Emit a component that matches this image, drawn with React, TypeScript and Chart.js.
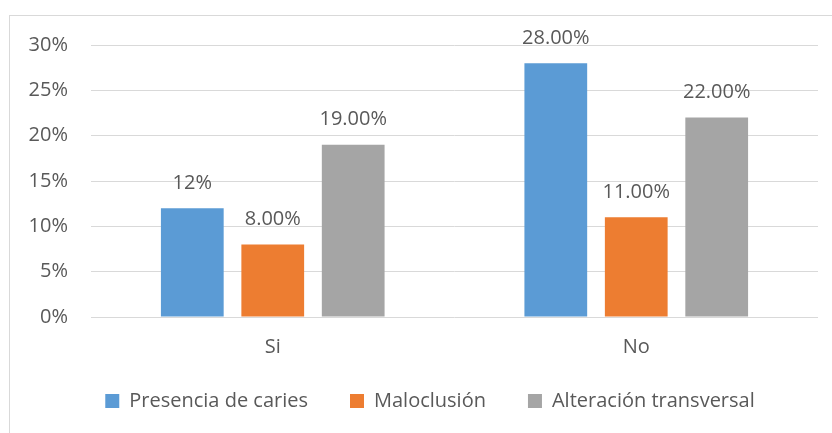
import React, { useEffect, useRef } from 'react';
import { Chart, registerables } from 'chart.js';

Chart.register(...registerables);

const categories = ['Si', 'No'];
const seriesNames = ['Presencia de caries', 'Maloclusión', 'Alteración transversal'];
const caries = [12, 28];
const maloclusion = [8, 11];
const alteracion = [19, 22];
const cariesLabels = ['12%', '28.00%'];
const maloclusionLabels = ['8.00%', '11.00%'];
const alteracionLabels = ['19.00%', '22.00%'];
const yMax = 30;
const yStep = 5;

const FONT = "'Open Sans', sans-serif";
const TEXT = '#595959';
const LEGEND_PAD = 42;

export default function App() {
  const ref = useRef<HTMLCanvasElement | null>(null);

  useEffect(() => {
    if (!ref.current) return;
    const labelSets = [cariesLabels, maloclusionLabels, alteracionLabels];

    const borderPlugin = {
      id: 'outerBorder',
      beforeDraw(chart: any) {
        const ctx = chart.ctx;
        ctx.save();
        ctx.fillStyle = '#ffffff';
        ctx.fillRect(0, 0, chart.width, chart.height);
        ctx.strokeStyle = '#D9D9D9';
        ctx.lineWidth = 1;
        ctx.strokeRect(9.5, 15.5, 1000, 1000);
        ctx.restore();
      },
    };

    const legendShift = {
      id: 'legendShift',
      afterLayout(chart: any) {
        const lg = chart.legend;
        if (lg) {
          lg.left += 21;
          lg.right += 21;
          const h = lg.bottom - lg.top;
          lg.top = 401 - 10 - LEGEND_PAD;
          lg.bottom = lg.top + h;
        }
      },
    };

    const valueLabels = {
      id: 'valueLabels',
      afterDatasetsDraw(chart: any) {
        const ctx = chart.ctx;
        ctx.save();
        ctx.font = `20px ${FONT}`;
        ctx.fillStyle = TEXT;
        ctx.textAlign = 'center';
        ctx.textBaseline = 'middle';
        chart.data.datasets.forEach((ds: any, di: number) => {
          const meta = chart.getDatasetMeta(di);
          meta.data.forEach((bar: any, i: number) => {
            ctx.fillText(labelSets[di][i], bar.x, bar.y - 25);
          });
        });
        ctx.restore();
      },
    };

    const chart = new Chart(ref.current, {
      type: 'bar',
      data: {
        labels: categories,
        datasets: [
          { label: seriesNames[0], data: caries, backgroundColor: '#5B9BD5' },
          { label: seriesNames[1], data: maloclusion, backgroundColor: '#ED7D31' },
          { label: seriesNames[2], data: alteracion, backgroundColor: '#A5A5A5' },
        ],
      },
      options: {
        responsive: false,
        animation: false,
        devicePixelRatio: 1,
        layout: { padding: { left: 0, right: 14, top: 45, bottom: 0 } },
        datasets: {
          bar: { categoryPercentage: 0.664, barPercentage: 0.78 },
        },
        scales: {
          x: {
            grid: { display: false, drawTicks: false },
            border: { display: false },
            ticks: { color: TEXT, font: { family: FONT, size: 20 }, padding: 18 },
            afterFit(scale: any) {
              scale.height = 44;
            },
          },
          y: {
            min: 0,
            max: yMax,
            grid: { color: '#D9D9D9', lineWidth: 1, drawTicks: false },
            border: { display: false },
            ticks: {
              stepSize: yStep,
              color: TEXT,
              font: { family: FONT, size: 20 },
              padding: 23,
              callback: (v: any) => `${v}%`,
            },
            afterFit(scale: any) {
              scale.width = 91;
            },
          },
        },
        plugins: {
          legend: {
            position: 'bottom',
            labels: {
              boxWidth: 14,
              boxHeight: 14,
              padding: LEGEND_PAD,
              color: TEXT,
              font: { family: FONT, size: 20 },
            },
          },
          tooltip: { enabled: false },
        },
      },
      plugins: [borderPlugin, legendShift, valueLabels],
    } as any);

    return () => chart.destroy();
  }, []);

  return (
    <div style={{ position: 'fixed', left: 0, top: 0, width: 832, height: 433, background: '#fff' }}>
      <canvas ref={ref} width={832} height={433} style={{ display: 'block' }} />
    </div>
  );
}
